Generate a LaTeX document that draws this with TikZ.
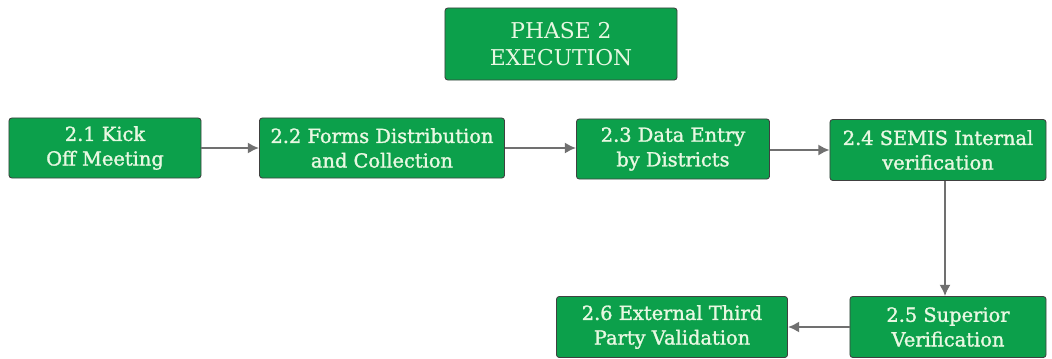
\documentclass[tikz,border=0pt]{standalone}
\usepackage{fontspec}
\setmainfont{DejaVu Serif}
\newfontfamily\boxfont{DejaVu Serif}[AutoFakeBold=1.4]
\usetikzlibrary{arrows.meta}
\definecolor{stepgreen}{RGB}{12,160,75}
\definecolor{steptext}{RGB}{232,248,226}
\definecolor{arrowgray}{RGB}{112,112,112}
\begin{document}
\begin{tikzpicture}[x=0.025cm,y=-0.025cm,
  stepbox/.style={draw=black!75,fill=stepgreen,rounded corners=2pt,line width=0.6pt,
    text=steptext,align=center,inner sep=0pt,minimum height=1.5cm,
    font=\boxfont\bfseries\fontsize{13.8}{17.5}\selectfont},
  flow/.style={draw=arrowgray,line width=1.5pt,-{Latex[length=8pt,width=8pt]}}]
\useasboundingbox (0,0) rectangle (1052,358);
\node[stepbox,minimum width=5.8cm,minimum height=1.8cm,font=\boxfont\fontsize{15.5}{19.5}\selectfont] (phase) at (561,44) {PHASE 2\\EXECUTION};
\node[stepbox,minimum width=4.8cm] (s1) at (105,148) {2.1 Kick\\Off Meeting};
\node[stepbox,minimum width=6.125cm] (s2) at (382,148) {2.2 Forms Distribution\\and Collection};
\node[stepbox,minimum width=4.825cm] (s3) at (673,149) {2.3 Data Entry\\by Districts};
\node[stepbox,minimum width=5.4cm,minimum height=1.525cm] (s4) at (938,150) {2.4 SEMIS Internal\\verification};
\node[stepbox,minimum width=4.9cm,minimum height=1.525cm] (s5) at (948,327) {2.5 Superior\\Verification};
\node[stepbox,minimum width=5.775cm,minimum height=1.525cm] (s6) at (672,327) {2.6 External Third\\Party Validation};

\path[flow] (s1) -- (s2);
\path[flow] (s2.east |- s2) -- (s3.west |- s2);
\path[flow] (s3.east |- s4) -- (s4);
\path[flow] (s4.south -| 945,0) -- (s5.north -| 945,0);
\path[flow] (s5) -- (s6);
\end{tikzpicture}
\end{document}
